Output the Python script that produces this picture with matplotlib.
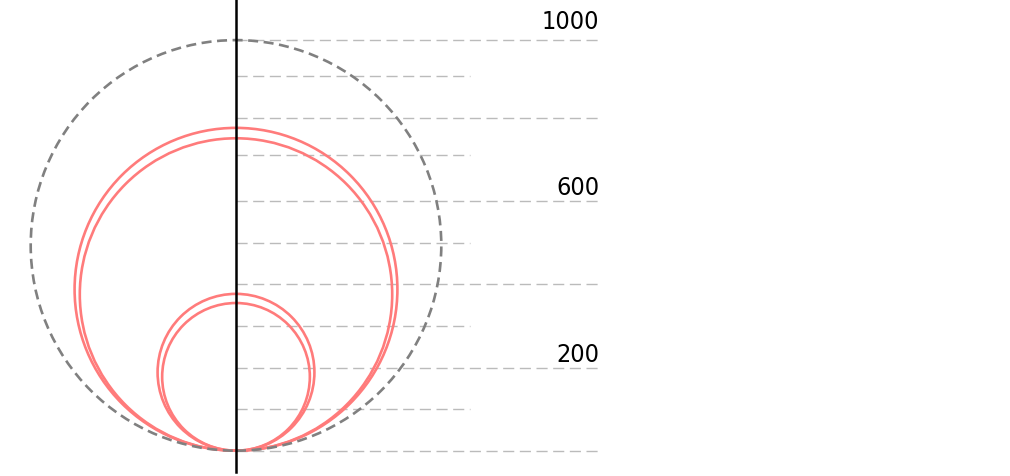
import matplotlib
matplotlib.use("Agg")
import matplotlib.pyplot as plt
from matplotlib.patches import Circle
from matplotlib import font_manager

# circle sizes (diameter, in value units), all resting on the baseline
outer_value = 987
big_pair = [776, 751]
small_pair = [377, 355]

# guide lines
grid_long = [0, 200, 400, 600, 800]
grid_short = [100, 300, 500, 710, 900]
label_values = [200, 600, 1000]
label_texts = ["200", "600", "1000"]

# pick a condensed face if there is one
font_kw = dict(family="DejaVu Sans", stretch="condensed")
try:
    path = font_manager.findfont(font_manager.FontProperties(**font_kw), fallback_to_default=False)
    if "Condensed" not in path:
        font_kw = dict(family="Liberation Sans Narrow")
        font_manager.findfont(font_manager.FontProperties(**font_kw), fallback_to_default=False)
except Exception:
    font_kw = dict(family="DejaVu Sans")

k = 0.416  # px per unit
fig = plt.figure(figsize=(10.1, 4.77), dpi=100)
ax = fig.add_axes([0, 0, 1, 1])
ax.set_xlim(-236 / k, (1010 - 236) / k)
ax.set_ylim((451.7 - 477) / k, 451.7 / k)
ax.axis("off")

grid_kw = dict(color="#bbbbbb", lw=1.0, dashes=(8, 4), zorder=1)
for v in grid_long + [outer_value]:
    ax.plot([0, 872], [v, v], **grid_kw)
for v in grid_short:
    ax.plot([0, 563], [v, v], **grid_kw)

for d in big_pair + small_pair:
    ax.add_patch(Circle((0, d / 2), d / 2, fill=False, ec="#ff7b7b", lw=1.9, zorder=2))

ax.add_patch(Circle((0, outer_value / 2), outer_value / 2, fill=False, ec="#808080",
                    lw=1.9, linestyle=(0, (3.8, 2.1)), zorder=3))

ax.plot([0, 0], [-51, 1100], color="black", lw=1.8, zorder=4)

for v, t in zip(label_values, label_texts):
    ax.text(873, v + 16.5, t, ha="right", va="baseline", fontsize=18, color="black", **font_kw)

fig.savefig("out.png", dpi=100)
